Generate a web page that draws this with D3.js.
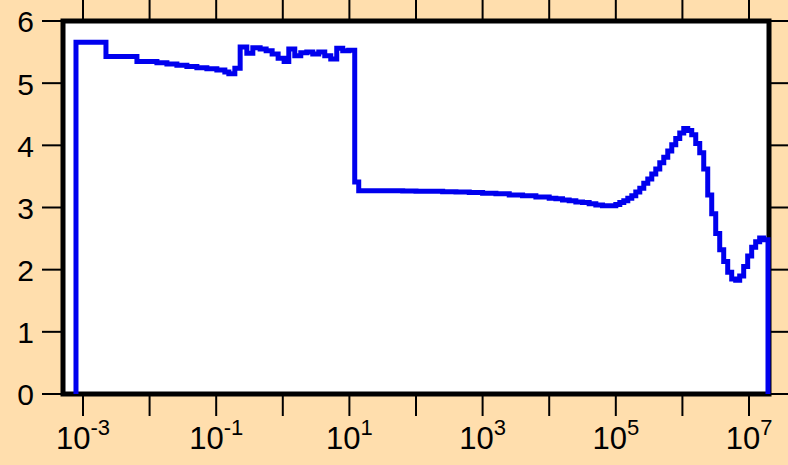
<!DOCTYPE html>
<html>
<head>
<meta charset="utf-8">
<script src="https://cdn.jsdelivr.net/npm/d3@7.9.0/dist/d3.min.js"></script>
<style>
  html, body { margin: 0; padding: 0; background: #ffdead; }
  svg { display: block; }
  text { font-family: "Liberation Sans", Arial, sans-serif; fill: #000; }
</style>
</head>
<body>
<svg id="chart" width="788" height="465"></svg>
<script>
// ---------- Data ----------
// bin left edges as log10(x), and the value of each bin
const binStart = [
  -3.105, -2.655, -2.19, -1.89, -1.74, -1.59, -1.44, -1.29, -1.14, -0.99,
  -0.87, -0.81, -0.72, -0.64, -0.54, -0.45, -0.34, -0.25, -0.16, -0.07,
  0.02, 0.09, 0.18, 0.27, 0.36, 0.45, 0.54, 0.63, 0.72, 0.81,
  0.90, 0.99, 1.08, 1.14,
  1.2, 1.4, 1.6, 1.8, 2.0, 2.2, 2.4, 2.6, 2.8, 3.0,
  3.2, 3.4, 3.6, 3.8, 4.0, 4.1, 4.2, 4.3, 4.4, 4.5,
  4.6, 4.7, 4.8, 4.9, 5.0, 5.06, 5.12, 5.18, 5.24, 5.30,
  5.36, 5.42, 5.48, 5.54, 5.60, 5.66, 5.72, 5.78, 5.84, 5.90,
  5.96, 6.02, 6.08, 6.14, 6.20, 6.26, 6.32, 6.38, 6.44, 6.50,
  6.56, 6.62, 6.68, 6.74, 6.80, 6.86, 6.92, 6.98, 7.04, 7.10,
  7.16, 7.22
];
const binValue = [
  5.66, 5.43, 5.35, 5.33, 5.31, 5.29, 5.27, 5.25, 5.23, 5.21,
  5.18, 5.15, 5.24, 5.58, 5.48, 5.57, 5.55, 5.52, 5.47, 5.40,
  5.35, 5.55, 5.44, 5.49, 5.50, 5.47, 5.50, 5.44, 5.39, 5.56,
  5.52, 5.53, 3.41, 3.27,
  3.27, 3.27, 3.27, 3.265, 3.26, 3.26, 3.255, 3.25, 3.24, 3.23,
  3.22, 3.20, 3.19, 3.17, 3.15, 3.14, 3.12, 3.11, 3.09, 3.08,
  3.06, 3.04, 3.03, 3.03, 3.05, 3.08, 3.11, 3.15, 3.19, 3.25,
  3.31, 3.39, 3.46, 3.54, 3.62, 3.72, 3.81, 3.91, 4.01, 4.11,
  4.20, 4.27, 4.24, 4.17, 4.03, 3.88, 3.62, 3.20, 2.90, 2.58,
  2.32, 2.13, 1.96, 1.85, 1.83, 1.90, 2.05, 2.22, 2.36, 2.45,
  2.51, 2.48
];
const binEnd = 7.285;

const xTickExps = [-3, -2, -1, 0, 1, 2, 3, 4, 5, 6, 7];
const xLabelExps = [-3, -1, 1, 3, 5, 7];
const yTicks = [0, 1, 2, 3, 4, 5, 6];

// ---------- Layout ----------
const plot = { left: 63, right: 769, top: 21, bottom: 394 };
const tickLen = 20;

const svg = d3.select("#chart");

const x = d3.scaleLog()
  .domain([Math.pow(10, -3.3), Math.pow(10, 7.3)])
  .range([plot.left, plot.right]);
const y = d3.scaleLinear()
  .domain([0, 6])
  .range([plot.bottom, plot.top]);

// ---------- Ticks (outside on all four sides) ----------
const ticks = svg.append("g").attr("stroke", "#000").attr("stroke-width", 2);

xTickExps.forEach((e) => {
  const px = x(Math.pow(10, e));
  ticks.append("line")
    .attr("x1", px).attr("x2", px)
    .attr("y1", plot.bottom).attr("y2", plot.bottom + tickLen + 2);
  ticks.append("line")
    .attr("x1", px).attr("x2", px)
    .attr("y1", plot.top).attr("y2", plot.top - tickLen - 2);
});

yTicks.forEach((v) => {
  const py = y(v);
  ticks.append("line")
    .attr("x1", plot.left).attr("x2", plot.left - tickLen - 1)
    .attr("y1", py).attr("y2", py);
  ticks.append("line")
    .attr("x1", plot.right).attr("x2", plot.right + tickLen + 2)
    .attr("y1", py).attr("y2", py);
});

// ---------- Plot frame ----------
svg.append("rect")
  .attr("x", plot.left)
  .attr("y", plot.top)
  .attr("width", plot.right - plot.left)
  .attr("height", plot.bottom - plot.top)
  .attr("fill", "#fff")
  .attr("stroke", "#000")
  .attr("stroke-width", 5);

// ---------- Labels ----------
yTicks.forEach((v) => {
  svg.append("text")
    .attr("x", 34)
    .attr("y", y(v))
    .attr("dy", "0.38em")
    .attr("text-anchor", "end")
    .attr("font-size", 30)
    .text(v);
});

xLabelExps.forEach((e) => {
  const t = svg.append("text")
    .attr("x", x(Math.pow(10, e)))
    .attr("y", 449)
    .attr("text-anchor", "middle")
    .attr("font-size", 31);
  t.append("tspan").text("10");
  t.append("tspan")
    .attr("font-size", 22)
    .attr("dy", -14)
    .text(e);
});

// ---------- Step line ----------
const pts = [[binStart[0], 0]];
binStart.forEach((e, i) => pts.push([e, binValue[i]]));
pts.push([binEnd, 0]);

const line = d3.line()
  .x((d) => x(Math.pow(10, d[0])))
  .y((d) => y(d[1]))
  .curve(d3.curveStepAfter);

svg.append("path")
  .attr("d", line(pts))
  .attr("fill", "none")
  .attr("stroke", "#0000ee")
  .attr("stroke-width", 5)
  .attr("stroke-linejoin", "miter");
</script>
</body>
</html>
